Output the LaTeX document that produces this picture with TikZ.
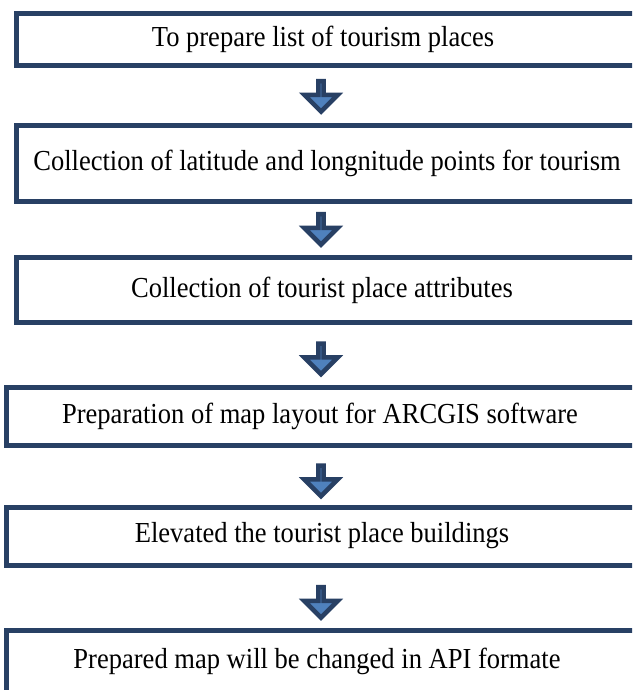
\documentclass[tikz,border=0pt]{standalone}
\usepackage{fontspec}
\setmainfont{Liberation Serif}
\usetikzlibrary{shapes.arrows}
\definecolor{navy}{RGB}{40,64,100}
\definecolor{lightblue}{RGB}{79,129,189}
\tikzset{
  stepbox/.style={draw=navy, line width=5pt, fill=white},
  steptext/.style={font=\fontsize{29}{33}\selectfont, inner sep=0pt, text=black, xscale=0.915},
  flowarrow/.style={single arrow, shape border rotate=270, draw=navy, fill=lightblue,
    line width=4.5pt, minimum width=33.5pt, minimum height=30.5pt,
    single arrow head extend=12pt, single arrow tip angle=90, inner sep=0pt}
}
\begin{document}
\begin{tikzpicture}[x=1pt,y=-1pt]
\useasboundingbox (0,0) rectangle (632,690);
\clip (0,0) rectangle (632,690);
\fill[white] (0,0) rectangle (632,690);
% boxes
\draw[stepbox] (16.5,13.5) rectangle (660,65.5);
\draw[stepbox] (16.5,125.5) rectangle (660,201.5);
\draw[stepbox] (16.5,257.5) rectangle (660,322.5);
\draw[stepbox] (6.5,387.5) rectangle (660,445.5);
\draw[stepbox] (6.5,507.5) rectangle (660,565.5);
\draw[stepbox] (6.5,630.5) rectangle (660,720);
% texts
\node[steptext] (t1) at (323,39.5) {To prepare list of tourism places};
\node[steptext] (t2) at (327,163.5) {Collection of latitude and longnitude points for tourism};
\node[steptext] (t3) at (322,290) {Collection of tourist place attributes};
\node[steptext] (t4) at (320,416) {Preparation of map layout for ARCGIS software};
\node[steptext] (t5) at (322,536) {Elevated the tourist place buildings};
\node[steptext] (t6) at (317,661) {Prepared map will be changed in API formate};
% arrows
\node[flowarrow] (a1) at (321,95) {};
\node[flowarrow] (a2) at (321,228) {};
\node[flowarrow] (a3) at (321,357.5) {};
\node[flowarrow] (a4) at (321,479.5) {};
\node[flowarrow] (a5) at (321,601) {};
\end{tikzpicture}
\end{document}
